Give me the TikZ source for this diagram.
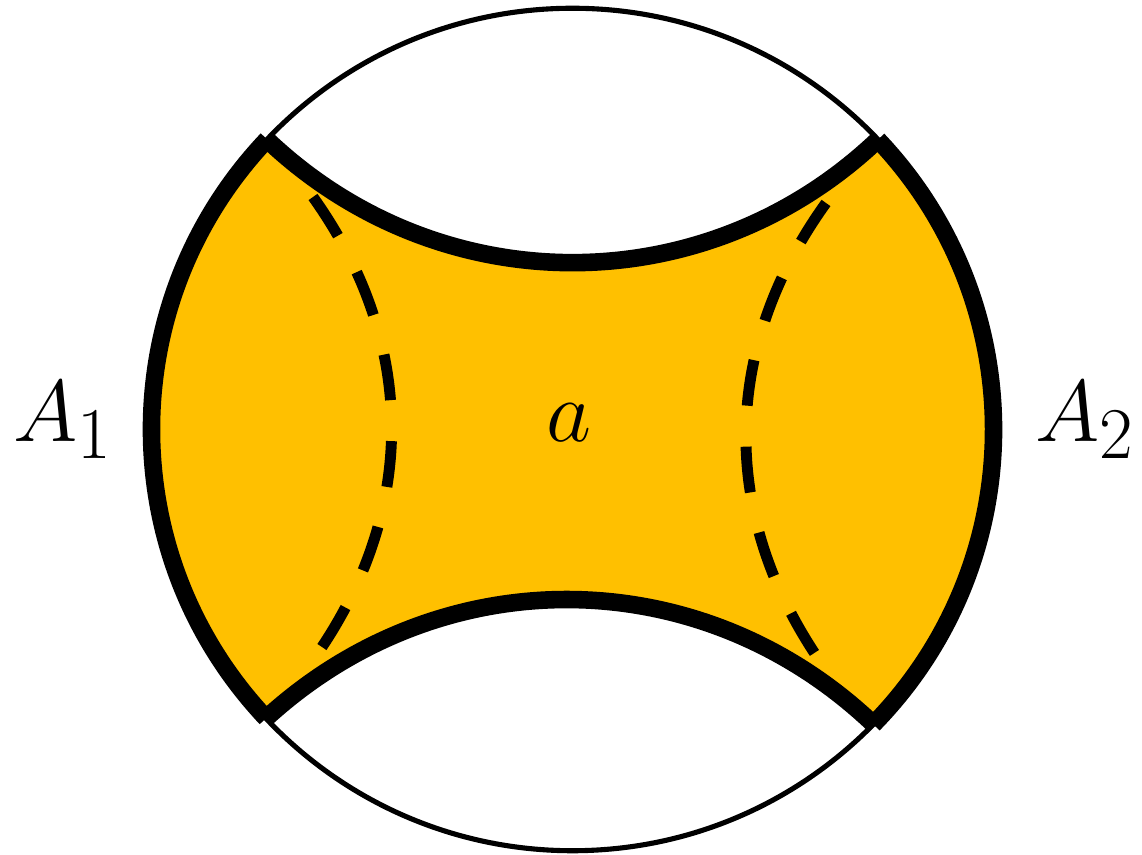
\documentclass[tikz,border=0pt]{standalone}
\usetikzlibrary{calc}
\definecolor{gold}{RGB}{255,192,0}
\begin{document}
\begin{tikzpicture}[x=0.01cm,y=0.01cm,
  thinline/.style={line width=1.45pt},
  thickline/.style={line width=5pt,line cap=butt},
  dashline/.style={line width=3.1pt,dash pattern=on 0.46cm off 0.41cm},
  lab/.style={font=\fontsize{29.5}{34}\selectfont,anchor=base}]
\useasboundingbox (0,0) rectangle (1142,855);
\coordinate (C) at (572.5,425.5);
\coordinate (UL) at ($(C)+(136.5:421)$);
\coordinate (UR) at ($(C)+(43.5:421)$);
\coordinate (LL) at ($(C)+(223.3:421)$);
\coordinate (LR) at ($(C)+(315.6:421)$);
% thin outer circle
\draw[thinline] (C) circle[radius=4.21cm];
% filled region
\fill[gold] (UL) to[bend right=43.5] (UR)
  arc[start angle=43.5,end angle=-44.4,radius=4.21cm]
  to[bend right=43] (LL)
  arc[start angle=223.3,end angle=136.5,radius=4.21cm] -- cycle;
% dashed curves
\coordinate (d1t) at (313,658);
\coordinate (d1b) at (313,195);
\coordinate (d2t) at (826,652);
\coordinate (d2b) at (824,188);
\draw[dashline] (d1t) to[bend left=35.5] (d1b);
\draw[dashline] (d2t) to[bend right=35.5] (d2b);
% thick boundaries
\draw[thickline] (UL) to[bend right=43.5] (UR);
\draw[thickline] (LR) to[bend right=43] (LL);
\draw[thickline] (UR) arc[start angle=43.5,end angle=-44.4,radius=4.21cm];
\draw[thickline] (LL) arc[start angle=223.3,end angle=136.5,radius=4.21cm];
% labels
\node[lab] (a1) at (63,413) {$A_1$};
\node[lab] (a2) at (1085,413) {$A_2$};
\node[lab] (aa) at (569,413) {$a$};
\end{tikzpicture}
\end{document}
